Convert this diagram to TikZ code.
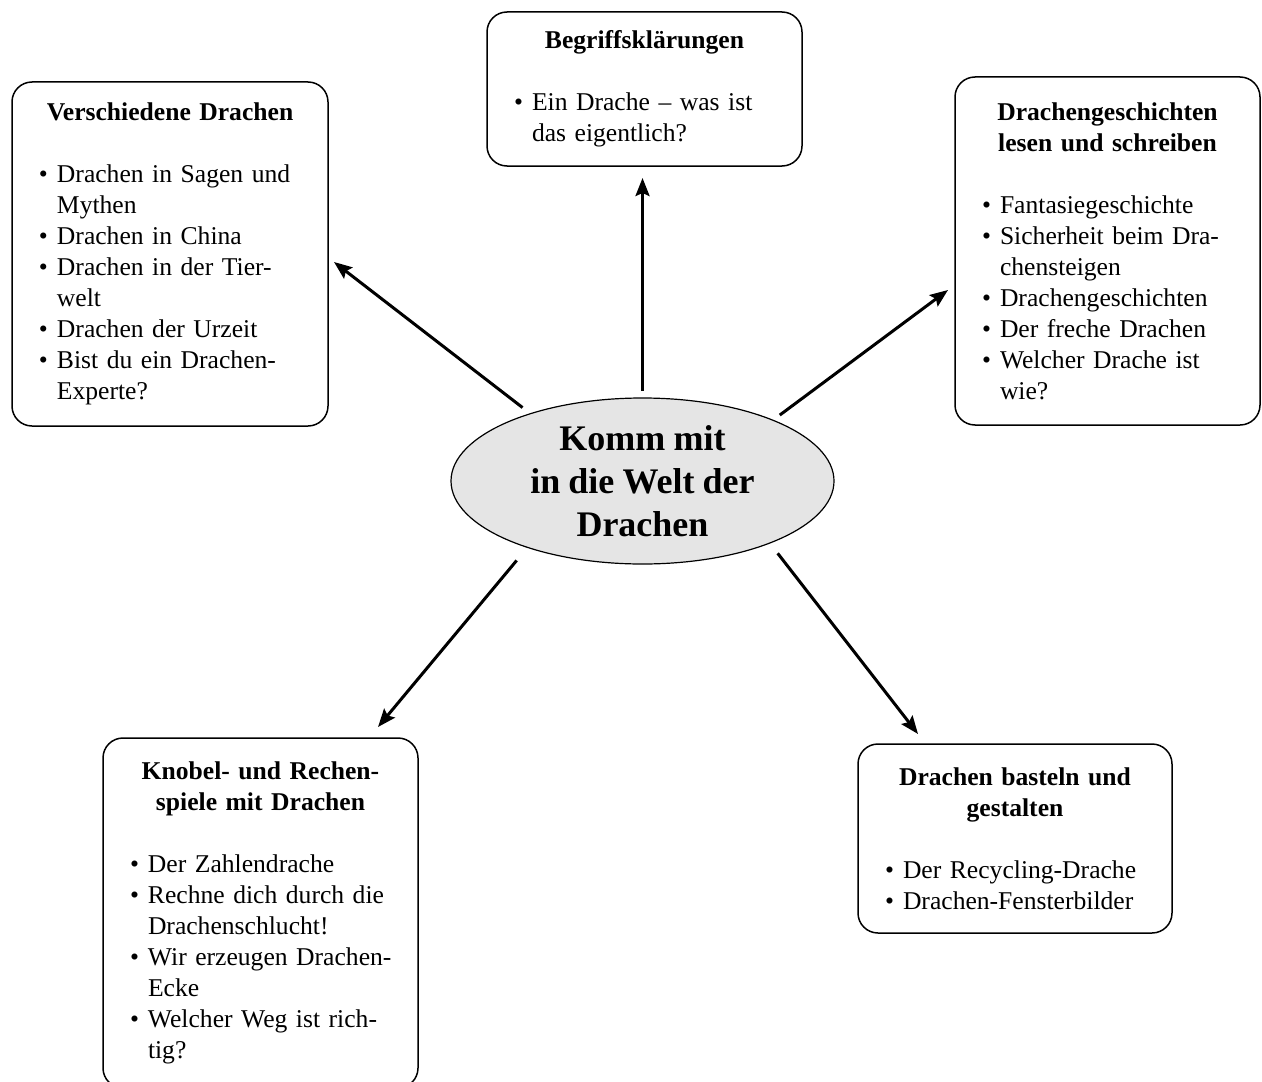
\documentclass[tikz,border=0pt]{standalone}
\usepackage{fontspec}
\setmainfont{Liberation Serif}[WordSpace=0.9]
\usetikzlibrary{arrows.meta, calc, shapes.geometric}

% list lines and box headings
\newcommand{\bitem}[1]{\par\noindent\makebox[9pt][l]{\textbullet}\mbox{#1}\par}
\newcommand{\bcont}[1]{\par\noindent\hspace*{9pt}\mbox{#1}\par}
\newcommand{\bhead}[1]{{\centering\textbf{#1}\par}\vspace{15.5pt}}

\tikzset{
  topicbox/.style={draw, rounded corners=10pt, line width=0.75pt, inner xsep=13.5pt,
    inner ysep=0pt, outer sep=0pt, align=left, font=\fontsize{12.8pt}{15.5pt}\selectfont},
  centre/.style={draw, ellipse, fill=gray!20, line width=0.6pt, inner sep=0pt, outer sep=0pt,
    minimum width=191.5pt, minimum height=83pt, align=center,
    font=\fontsize{18pt}{21.5pt}\selectfont\bfseries},
  arrow/.style={line width=1.5pt, -{Stealth[length=9pt, width=7pt, inset=1.5pt]}}
}

\begin{document}
\begin{tikzpicture}[x=0.5pt, y=-0.5pt]
\useasboundingbox (0,0) rectangle (1262,1081);
\clip (0,0) rectangle (1262,1081);

% centre
\node[centre] (title) at (642.5,481) {Komm mit\\in die Welt der\\Drachen};

% topic boxes
\node[topicbox, text width=131pt, minimum width=158pt, minimum height=172pt] (vd) at (170,254) {%
  \bhead{Verschiedene Drachen}
  \bitem{Drachen in Sagen und}
  \bcont{Mythen}
  \bitem{Drachen in China}
  \bitem{Drachen in der Tier-}
  \bcont{welt}
  \bitem{Drachen der Urzeit}
  \bitem{Bist du ein Drachen-}
  \bcont{Experte?}};

\node[topicbox, text width=130.5pt, minimum width=157.5pt, minimum height=77pt] (begr) at (644.5,89) {%
  \bhead{Begriffsklärungen}
  \bitem{Ein Drache -- was ist}
  \bcont{das eigentlich?}};

\node[topicbox, text width=125.5pt, minimum width=152.5pt, minimum height=174pt] (dg) at (1107.5,251) {%
  \bhead{Drachengeschichten\\lesen und schreiben}
  \bitem{Fantasiegeschichte}
  \bitem{Sicherheit beim Dra-}
  \bcont{chensteigen}
  \bitem{Drachengeschichten}
  \bitem{Der freche Drachen}
  \bitem{Welcher Drache ist}
  \bcont{wie?}};

\node[topicbox, text width=130.5pt, minimum width=157.5pt, minimum height=175pt] (kr) at (260.5,913) {%
  \bhead{Knobel- und Rechen-\\spiele mit Drachen}
  \bitem{Der Zahlendrache}
  \bitem{Rechne dich durch die}
  \bcont{Drachenschlucht!}
  \bitem{Wir erzeugen Drachen-}
  \bcont{Ecke}
  \bitem{Welcher Weg ist rich-}
  \bcont{tig?}};

\node[topicbox, text width=130pt, minimum width=157pt, minimum height=94.5pt] (db) at (1015,838.5) {%
  \bhead{Drachen basteln und\\gestalten}
  \bitem{Der Recycling-Drache}
  \bitem{Drachen-Fensterbilder}};

% arrows
\draw[arrow, shorten <=3.5pt] (title.90) -- ($(begr.south)+(-2,12)$);
\draw[arrow, shorten <=5pt] (title.149) -- ($(vd.east)+(6,8)$);
\draw[arrow, shorten <=4.3pt] (title.25.5) -- ($(dg.west)+(-7,39)$);
\draw[arrow, shorten <=8.5pt] (title.210) -- ($(kr.north)+(117.5,-11)$);
\draw[arrow, shorten <=6.5pt] (title.-26) -- ($(db.north)+(-97,-10)$);
\end{tikzpicture}
\end{document}
